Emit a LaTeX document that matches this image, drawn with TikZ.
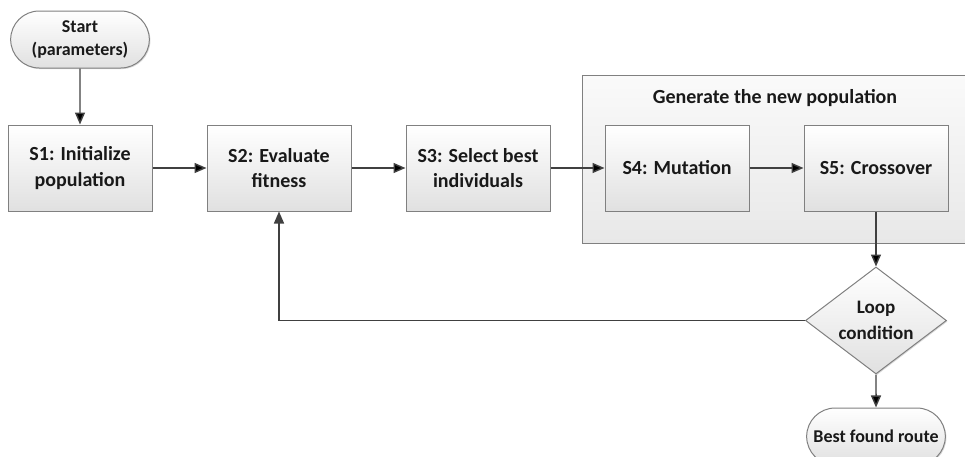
\documentclass[tikz,border=0pt]{standalone}
\usepackage{fontspec}
\setmainfont{Carlito}
\usetikzlibrary{arrows.meta}
\usetikzlibrary{shapes.geometric, shapes.misc, backgrounds}
\usetikzlibrary{positioning}
\usetikzlibrary{shadows}
\definecolor{boxline}{HTML}{808080}
\definecolor{arrowgray}{HTML}{404040}
\tikzset{
    stepbox/.style={
           rectangle,
           draw=boxline, line width=0.75pt,
           top color=white, bottom color=black!12,
           minimum width=108pt, minimum height=64.5pt,
           inner sep=2pt,
           align=center,
           text=black!90,
           font=\fontsize{15}{19}\selectfont\bfseries,
           drop shadow={shadow xshift=0.8pt, shadow yshift=-0.8pt, opacity=0.3},
           },
    terminal/.style={stepbox, rounded rectangle, minimum height=42.75pt,
           font=\fontsize{13.5}{17}\selectfont\bfseries},
    decision/.style={stepbox, diamond, aspect=1.4, minimum width=105.75pt, minimum height=80.25pt, inner sep=0pt,
           font=\fontsize{14.3}{19}\selectfont\bfseries},
    flow/.style={-{Triangle[length=9pt,width=7.5pt]}, draw=arrowgray, line width=1.1pt},
    groupbox/.style={draw=boxline, line width=0.75pt, top color=black!2, bottom color=black!9},
}

\begin{document}
\begin{tikzpicture}[x=0.75pt, y=-0.75pt]
      \useasboundingbox (0,0) rectangle (965,457);
      \node[stepbox] (s1) at (80,168) {S1: Initialize\\population};
      \node[stepbox, right=40.5pt of s1] (s2) {S2: Evaluate\\fitness};
      \node[stepbox, right=40.5pt of s2] (s3) {S3: Select best\\individuals};
      \node[stepbox, right=40.5pt of s3] (s4) {S4: Mutation};
      \node[stepbox, right=40.5pt of s4] (s5) {S5: Crossover};
      \node[terminal, above=42pt of s1] (start) {Start\\(parameters)};
      \node[decision, below=41.25pt of s5] (loop) {Loop\\condition};
      \node[terminal, below=24.75pt of loop] (best) {Best found route};
      \node[font=\fontsize{15}{19}\selectfont\bfseries, text=black!90] (title) at (775,98) {Generate the new population};
      \begin{scope}[on background layer]
      \path[groupbox] (582,75) rectangle (985,243);
      \end{scope}
      \path[flow]
      (start) edge (s1)
      (s1) edge (s2)
      (s2) edge (s3)
      (s3) edge (s4)
      (s4) edge (s5)
      (s5) edge (loop)
      (loop) edge (best);
      \draw[flow] (loop.west) -| (s2.south);
\end{tikzpicture}
\end{document}
